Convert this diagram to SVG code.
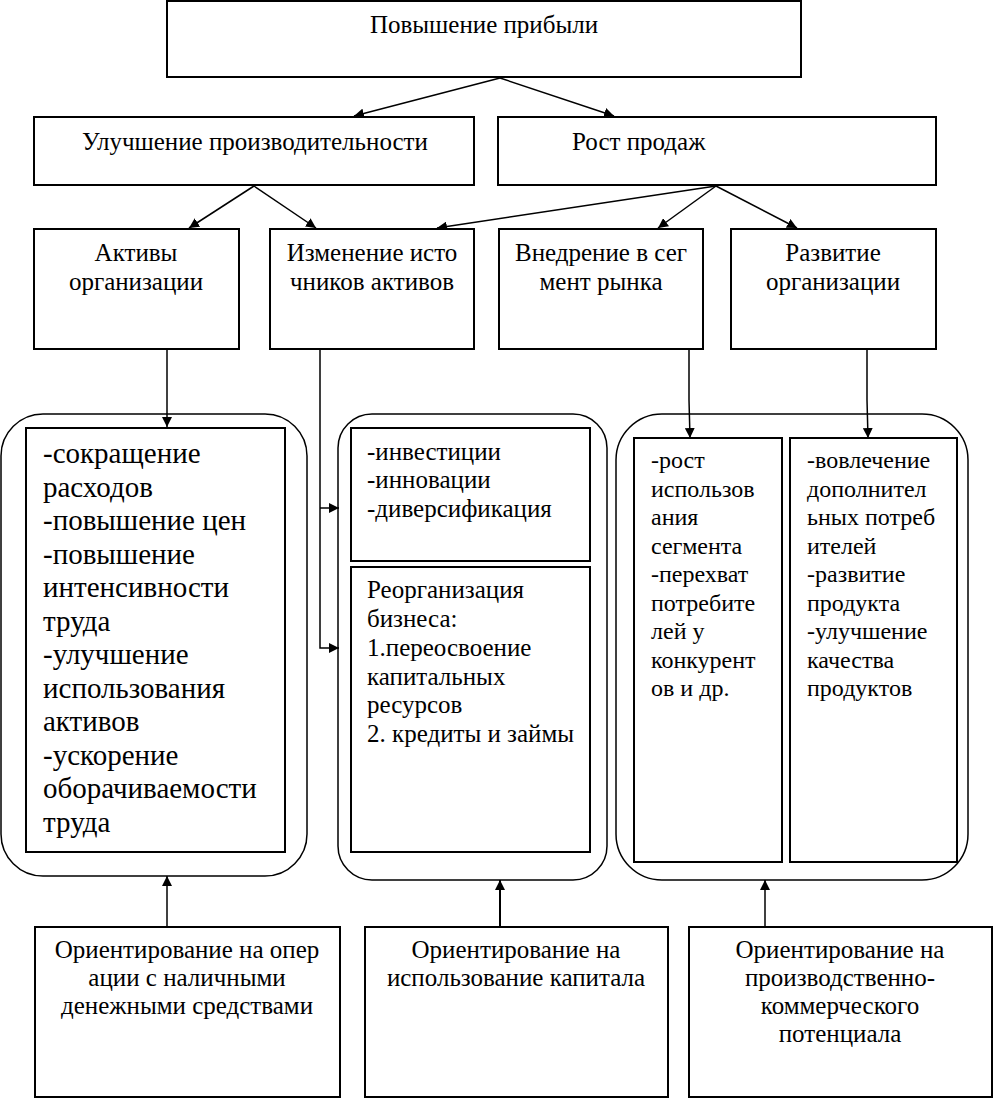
<svg xmlns="http://www.w3.org/2000/svg" width="994" height="1098" viewBox="0 0 994 1098">
<defs>
<marker id="ah" viewBox="0 0 10 10" refX="10" refY="5" markerWidth="10" markerHeight="10" markerUnits="userSpaceOnUse" orient="auto">
<path d="M0,0 L10,5 L0,10 z" fill="#000"/>
</marker>
</defs>
<rect width="994" height="1098" fill="#fff"/>

<g id="connectors" fill="none" stroke="#000" stroke-width="1.5">
<line x1="500" y1="78" x2="354" y2="116" marker-end="url(#ah)"/>
<line x1="500" y1="78" x2="614" y2="116" marker-end="url(#ah)"/>
<line x1="254" y1="186" x2="189" y2="228" marker-end="url(#ah)"/>
<line x1="254" y1="186" x2="316" y2="228" marker-end="url(#ah)"/>
<line x1="716" y1="186" x2="437" y2="228" marker-end="url(#ah)"/>
<line x1="716" y1="186" x2="658" y2="228" marker-end="url(#ah)"/>
<line x1="716" y1="186" x2="797" y2="228" marker-end="url(#ah)"/>
<line x1="167" y1="349" x2="167" y2="427" marker-end="url(#ah)"/>
<polyline points="320,349 320,648 339,648" marker-end="url(#ah)"/>
<line x1="320" y1="508" x2="339" y2="508" marker-end="url(#ah)"/>
<polyline points="689,349 689,400 690,438" marker-end="url(#ah)"/>
<polyline points="867,349 867,400 868,438" marker-end="url(#ah)"/>
<line x1="167" y1="927" x2="167" y2="876" marker-end="url(#ah)"/>
<line x1="500" y1="927" x2="500" y2="880" marker-end="url(#ah)" stroke-width="2"/>
<line x1="765" y1="927" x2="765" y2="880" marker-end="url(#ah)"/>
</g>

<g id="n-top">
<rect x="167" y="1" width="634" height="76" fill="#fff" stroke="#000" stroke-width="2"/>
<text font-family="Liberation Serif" font-size="25" text-anchor="middle" x="484" y="33">Повышение прибыли</text>
</g>
<g id="n-prod">
<rect x="34" y="117" width="440" height="68" fill="#fff" stroke="#000" stroke-width="2"/>
<text font-family="Liberation Serif" font-size="25" text-anchor="middle" x="255" y="150">Улучшение производительности</text>
</g>
<g id="n-sales">
<rect x="498" y="117" width="438" height="68" fill="#fff" stroke="#000" stroke-width="2"/>
<text font-family="Liberation Serif" font-size="25" x="572" y="150">Рост продаж</text>
</g>

<g id="n-assets">
<rect x="34" y="229" width="205" height="120" fill="#fff" stroke="#000" stroke-width="2"/>
<text font-family="Liberation Serif" font-size="25" text-anchor="middle" x="136" y="261">Активы</text>
<text font-family="Liberation Serif" font-size="25" text-anchor="middle" x="136" y="290">организации</text>
</g>
<g id="n-sources">
<rect x="270" y="229" width="204" height="120" fill="#fff" stroke="#000" stroke-width="2"/>
<text font-family="Liberation Serif" font-size="25" text-anchor="middle" x="372" y="261">Изменение исто</text>
<text font-family="Liberation Serif" font-size="25" text-anchor="middle" x="372" y="290">чников активов</text>
</g>
<g id="n-segment">
<rect x="499" y="229" width="204" height="120" fill="#fff" stroke="#000" stroke-width="2"/>
<text font-family="Liberation Serif" font-size="25" text-anchor="middle" x="601" y="261">Внедрение в сег</text>
<text font-family="Liberation Serif" font-size="25" text-anchor="middle" x="601" y="290">мент рынка</text>
</g>
<g id="n-develop">
<rect x="731" y="229" width="205" height="120" fill="#fff" stroke="#000" stroke-width="2"/>
<text font-family="Liberation Serif" font-size="25" text-anchor="middle" x="833" y="261">Развитие</text>
<text font-family="Liberation Serif" font-size="25" text-anchor="middle" x="833" y="290">организации</text>
</g>

<g id="g-left">
<rect x="1" y="414" width="306" height="462" rx="42" ry="42" fill="none" stroke="#000" stroke-width="1.5"/>
<rect x="26" y="428" width="259" height="424" fill="#fff" stroke="#000" stroke-width="2"/>
<text font-family="Liberation Serif" font-size="29" x="43">
<tspan x="43" y="463">-сокращение</tspan>
<tspan x="43" y="497">расходов</tspan>
<tspan x="43" y="530">-повышение цен</tspan>
<tspan x="43" y="564">-повышение</tspan>
<tspan x="43" y="597">интенсивности</tspan>
<tspan x="43" y="631">труда</tspan>
<tspan x="43" y="664">-улучшение</tspan>
<tspan x="43" y="698">использования</tspan>
<tspan x="43" y="731">активов</tspan>
<tspan x="43" y="765">-ускорение</tspan>
<tspan x="43" y="798">оборачиваемости</tspan>
<tspan x="43" y="832">труда</tspan>
</text>
</g>

<g id="g-mid">
<rect x="338" y="414" width="269" height="466" rx="34" ry="34" fill="none" stroke="#000" stroke-width="1.5"/>
<rect x="351" y="428" width="239" height="133" fill="#fff" stroke="#000" stroke-width="2"/>
<text font-family="Liberation Serif" font-size="25" x="367">
<tspan x="367" y="460">-инвестиции</tspan>
<tspan x="367" y="488">-инновации</tspan>
<tspan x="367" y="517">-диверсификация</tspan>
</text>
<rect x="351" y="567" width="239" height="285" fill="#fff" stroke="#000" stroke-width="2"/>
<text font-family="Liberation Serif" font-size="25" x="367">
<tspan x="367" y="598">Реорганизация</tspan>
<tspan x="367" y="627">бизнеса:</tspan>
<tspan x="367" y="656">1.переосвоение</tspan>
<tspan x="367" y="685">капитальных</tspan>
<tspan x="367" y="713">ресурсов</tspan>
<tspan x="367" y="742">2. кредиты и займы</tspan>
</text>
</g>

<g id="g-right">
<rect x="616" y="414" width="352" height="466" rx="46" ry="46" fill="none" stroke="#000" stroke-width="1.5"/>
<rect x="634" y="438" width="148" height="424" fill="#fff" stroke="#000" stroke-width="2"/>
<text font-family="Liberation Serif" font-size="24" x="651">
<tspan x="651" y="468">-рост</tspan>
<tspan x="651" y="497">использов</tspan>
<tspan x="651" y="525">ания</tspan>
<tspan x="651" y="554">сегмента</tspan>
<tspan x="651" y="582">-перехват</tspan>
<tspan x="651" y="611">потребите</tspan>
<tspan x="651" y="639">лей у</tspan>
<tspan x="651" y="668">конкурент</tspan>
<tspan x="651" y="696">ов и др.</tspan>
</text>
<rect x="790" y="438" width="167" height="424" fill="#fff" stroke="#000" stroke-width="2"/>
<text font-family="Liberation Serif" font-size="24" x="807">
<tspan x="807" y="468">-вовлечение</tspan>
<tspan x="807" y="497">дополнител</tspan>
<tspan x="807" y="525">ьных потреб</tspan>
<tspan x="807" y="554">ителей</tspan>
<tspan x="807" y="582">-развитие</tspan>
<tspan x="807" y="611">продукта</tspan>
<tspan x="807" y="639">-улучшение</tspan>
<tspan x="807" y="668">качества</tspan>
<tspan x="807" y="696">продуктов</tspan>
</text>
</g>

<g id="n-cash">
<rect x="35" y="927" width="305" height="170" fill="#fff" stroke="#000" stroke-width="2"/>
<text font-family="Liberation Serif" font-size="25" text-anchor="middle" x="187" y="958">Ориентирование на опер</text>
<text font-family="Liberation Serif" font-size="25" text-anchor="middle" x="187" y="986">ации с наличными</text>
<text font-family="Liberation Serif" font-size="25" text-anchor="middle" x="187" y="1014">денежными средствами</text>
</g>
<g id="n-capital">
<rect x="365" y="927" width="303" height="170" fill="#fff" stroke="#000" stroke-width="2"/>
<text font-family="Liberation Serif" font-size="25" text-anchor="middle" x="516" y="958">Ориентирование на</text>
<text font-family="Liberation Serif" font-size="25" text-anchor="middle" x="516" y="986">использование капитала</text>
</g>
<g id="n-potential">
<rect x="689" y="927" width="303" height="170" fill="#fff" stroke="#000" stroke-width="2"/>
<text font-family="Liberation Serif" font-size="25" text-anchor="middle" x="840" y="958">Ориентирование на</text>
<text font-family="Liberation Serif" font-size="25" text-anchor="middle" x="840" y="986">производственно-</text>
<text font-family="Liberation Serif" font-size="25" text-anchor="middle" x="840" y="1014">коммерческого</text>
<text font-family="Liberation Serif" font-size="25" text-anchor="middle" x="840" y="1042">потенциала</text>
</g>
</svg>
